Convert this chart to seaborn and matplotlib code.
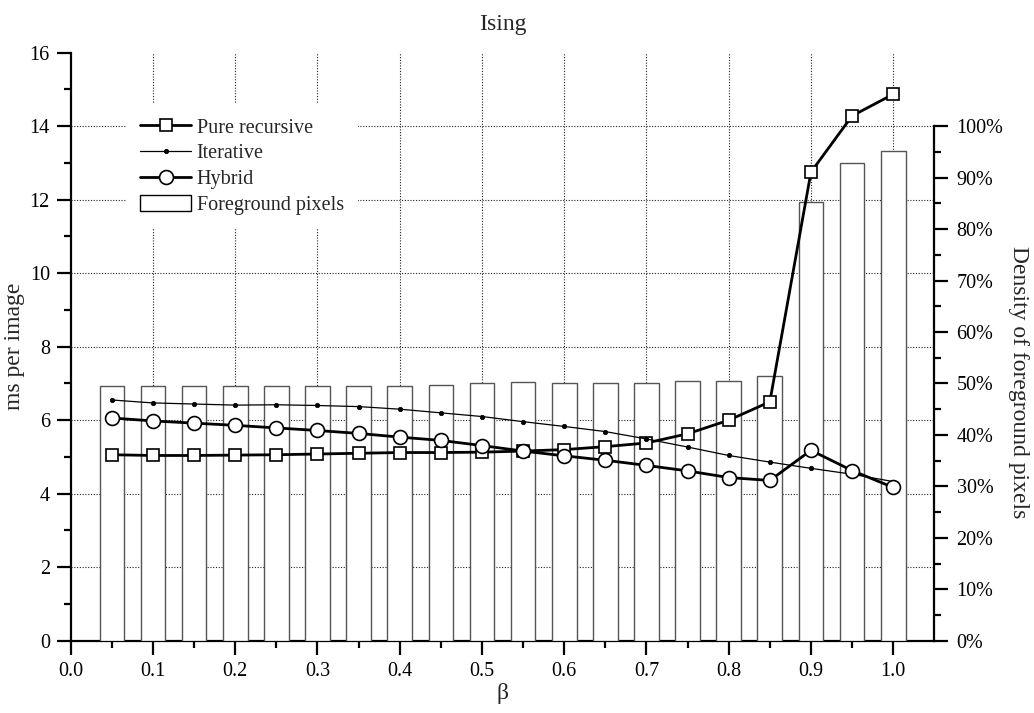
import matplotlib
matplotlib.use("Agg")
import matplotlib.pyplot as plt
import seaborn as sns
from matplotlib.lines import Line2D
from matplotlib.ticker import FixedLocator, FormatStrFormatter, PercentFormatter

# ---------------- data ----------------
beta = [0.05, 0.10, 0.15, 0.20, 0.25, 0.30, 0.35, 0.40, 0.45, 0.50,
        0.55, 0.60, 0.65, 0.70, 0.75, 0.80, 0.85, 0.90, 0.95, 1.00]
pure_recursive = [5.06, 5.04, 5.04, 5.05, 5.06, 5.08, 5.10, 5.12, 5.12, 5.13,
                  5.16, 5.20, 5.28, 5.38, 5.63, 6.00, 6.50, 12.75, 14.28, 14.87]
iterative = [6.55, 6.47, 6.44, 6.41, 6.42, 6.40, 6.37, 6.30, 6.20, 6.10,
             5.96, 5.83, 5.69, 5.49, 5.27, 5.04, 4.86, 4.69, 4.53, 4.33]
hybrid = [6.06, 5.98, 5.92, 5.86, 5.79, 5.72, 5.64, 5.54, 5.45, 5.31,
          5.16, 5.03, 4.91, 4.77, 4.62, 4.44, 4.36, 5.18, 4.63, 4.17]
density_pct = [49.6, 49.6, 49.6, 49.6, 49.6, 49.6, 49.6, 49.6, 49.7, 50.0,
               50.2, 50.0, 50.0, 50.0, 50.4, 50.5, 51.4, 85.3, 92.8, 95.2]

x_major = [0.0, 0.1, 0.2, 0.3, 0.4, 0.5, 0.6, 0.7, 0.8, 0.9, 1.0]
x_minor = [0.05, 0.15, 0.25, 0.35, 0.45, 0.55, 0.65, 0.75, 0.85, 0.95]
y_major = [0, 2, 4, 6, 8, 10, 12, 14, 16]
y_minor = [1, 3, 5, 7, 9, 11, 13, 15]
pct_major = [0, 10, 20, 30, 40, 50, 60, 70, 80, 90, 100]
pct_minor = [5, 15, 25, 35, 45, 55, 65, 75, 85, 95]

# ---------------- style ----------------
sns.set_style("ticks")
plt.rcParams["font.family"] = ["Liberation Serif", "DejaVu Serif"]

TICK_FS = 14.5
LABEL_FS = 17
GRID_KW = dict(color="#222222", linestyle=(0, (1, 1.5)), linewidth=0.8)

fig = plt.figure(figsize=(10.34, 7.13), dpi=100)
rect = [0.0684, 0.1014, 0.8352, 0.8247]
ax = fig.add_axes(rect)            # left axis (bottom layer)
ax2 = ax.twinx()                   # grid + bars, right axis (middle layer)
ax3 = fig.add_axes(rect, sharex=ax, sharey=ax)  # lines + legend (top layer)
ax.set_zorder(0)
ax2.set_zorder(1)
ax3.set_zorder(2)
ax2.patch.set_visible(False)
ax3.patch.set_visible(False)
ax.grid(False)
ax2.grid(False)

ax.set_xlim(0, 1.05)
ax.set_ylim(0, 16)
ax2.set_ylim(0, 1600 / 14)

# grid lines (left-axis major ticks), placed under the bars
for xv in x_major[1:]:
    ax2.axvline(xv, zorder=0.5, **GRID_KW)
for yv in y_major[1:-1]:
    ax2.add_line(Line2D([0, 1], [yv, yv], transform=ax.get_yaxis_transform(),
                        zorder=0.5, **GRID_KW))

# bars
sns.barplot(x=beta, y=density_pct, native_scale=True, ax=ax2,
            color="white", saturation=1, edgecolor="#555555",
            linewidth=1.0, width=0.6, label="Foreground pixels", zorder=2)
for b in ax2.patches:
    b.set_facecolor("white")
    b.set_alpha(1.0)
    b.set_zorder(2)
if ax2.get_legend() is not None:
    ax2.get_legend().remove()

# lines
sns.lineplot(x=beta, y=pure_recursive, ax=ax3, color="black", lw=2.0,
             marker="s", markersize=8.5, markerfacecolor="white",
             markeredgecolor="black", markeredgewidth=1.2,
             label="Pure recursive", legend=False)
sns.lineplot(x=beta, y=iterative, ax=ax3, color="black", lw=0.9,
             marker="o", markersize=3.2, markerfacecolor="black",
             markeredgecolor="black", markeredgewidth=0.5,
             label="Iterative", legend=False)
sns.lineplot(x=beta, y=hybrid, ax=ax3, color="black", lw=2.0,
             marker="o", markersize=10, markerfacecolor="white",
             markeredgecolor="black", markeredgewidth=1.2,
             label="Hybrid", legend=False)

# ---------------- axes: left/bottom ----------------
ax.xaxis.set_major_locator(FixedLocator(x_major))
ax.xaxis.set_minor_locator(FixedLocator(x_minor))
ax.xaxis.set_major_formatter(FormatStrFormatter("%.1f"))
ax.yaxis.set_major_locator(FixedLocator(y_major))
ax.yaxis.set_minor_locator(FixedLocator(y_minor))
ax.yaxis.set_major_formatter(FormatStrFormatter("%d"))
for s in ["top", "right"]:
    ax.spines[s].set_visible(False)
for s in ["left", "bottom"]:
    ax.spines[s].set_linewidth(1.6)
    ax.spines[s].set_color("black")
ax.tick_params(axis="both", which="major", direction="out", length=10,
               width=1.6, labelsize=TICK_FS, colors="black")
ax.tick_params(axis="both", which="minor", direction="out", length=5,
               width=1.6, colors="black")
ax.tick_params(axis="x", which="major", pad=5)
ax.tick_params(axis="y", which="major", pad=5)
ax.set_xlabel("β", fontsize=LABEL_FS, labelpad=2)
ax.set_ylabel("ms per image", fontsize=LABEL_FS)
ax.yaxis.set_label_coords(-0.053, 0.5)
ax.set_title("Ising", fontsize=LABEL_FS, pad=16)

# ---------------- right axis ----------------
ax2.set_ylim(0, 1600 / 14)
ax2.set_xlim(0, 1.05)
ax2.yaxis.set_major_locator(FixedLocator(pct_major))
ax2.yaxis.set_minor_locator(FixedLocator(pct_minor))
ax2.yaxis.set_major_formatter(PercentFormatter(xmax=100, decimals=0))
for s in ["top", "left", "bottom"]:
    ax2.spines[s].set_visible(False)
ax2.spines["right"].set_bounds(0, 100)
ax2.spines["right"].set_linewidth(1.6)
ax2.spines["right"].set_color("black")
ax2.tick_params(axis="y", which="major", direction="out", length=10,
                width=1.6, labelsize=TICK_FS, pad=6, colors="black")
ax2.tick_params(axis="y", which="minor", direction="out", length=5,
                width=1.6, colors="black")
ax2.tick_params(axis="x", which="both", bottom=False, labelbottom=False)
ax2.set_xlabel("")
ax2.set_ylabel("Density of foreground pixels", fontsize=LABEL_FS,
               rotation=270, va="center")
ax2.yaxis.set_label_coords(1.097, 0.44)

# ---------------- top layer ----------------
ax3.axis("off")
ax3.set_xlim(0, 1.05)
ax3.set_ylim(0, 16)

h3, l3 = ax3.get_legend_handles_labels()
h2, l2 = ax2.get_legend_handles_labels()
leg = ax3.legend(h3 + h2[:1], l3 + l2[:1], loc="upper left",
                 bbox_to_anchor=(0.0643, 0.913), frameon=True,
                 fancybox=False, facecolor="white", edgecolor="none",
                 framealpha=1.0, fontsize=TICK_FS, handlelength=2.5,
                 handletextpad=0.3, labelspacing=0.3, borderpad=0.7,
                 borderaxespad=0, handleheight=0.8)
for p in leg.get_patches():
    p.set_edgecolor("black")
    p.set_facecolor("white")

fig.savefig("out.png", dpi=100)
